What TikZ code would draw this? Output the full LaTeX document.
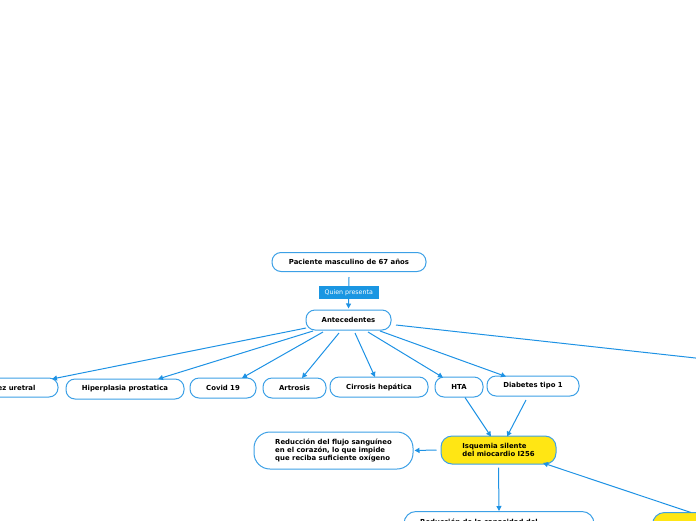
\documentclass[tikz,border=0pt]{standalone}
\usepackage{fontspec}
\setmainfont{DejaVu Sans}
\usetikzlibrary{arrows.meta}
\definecolor{lnblue}{RGB}{30,146,228}
\definecolor{bdblue}{RGB}{60,160,230}
\definecolor{tagblue}{RGB}{26,150,226}
\definecolor{yel}{RGB}{255,230,20}
\tikzset{
  box/.style={draw=bdblue, line width=1pt, fill=white, rounded corners=9pt,
    font=\fontsize{6.9}{8.4}\selectfont\bfseries, inner sep=0pt, align=center},
  ybox/.style={box, fill=yel},
  conn/.style={draw=lnblue, line width=1pt, -{Triangle[length=5pt,width=5pt]}},
  plain/.style={draw=lnblue, line width=1pt},
  tag/.style={fill=tagblue, text=white, font=\fontsize{6.3}{7}\selectfont, inner sep=0pt,
    minimum width=60pt, minimum height=13pt},
  capt/.style={font=\fontsize{6.9}{8.4}\selectfont\bfseries, inner sep=0pt, align=left},
}
\begin{document}
\begin{tikzpicture}[x=1pt,y=-1pt]
\useasboundingbox (0,0) rectangle (696,520);
\clip (0,0) rectangle (696,520);
\node[box, minimum width=154pt, minimum height=19pt] (pac) at (349,262) {Paciente masculino de 67 años};
\node[box, minimum width=85pt, minimum height=20pt] (ant) at (348.5,320) {Antecedentes};
\node[box, minimum width=112pt, minimum height=19pt] (est) at (2,387.5) {Estrechez uretral};
\node[box, minimum width=118pt, minimum height=20pt] (hip) at (125,389) {Hiperplasia prostatica};
\node[box, minimum width=66pt, minimum height=20pt] (cov) at (223,388) {Covid 19};
\node[box, minimum width=63pt, minimum height=20pt] (art) at (294.5,388) {Artrosis};
\node[box, minimum width=98pt, minimum height=20pt] (cir) at (379,387) {Cirrosis hepática};
\node[box, minimum width=48pt, minimum height=20pt] (hta) at (459,387) {HTA};
\node[box, minimum width=92pt, minimum height=20pt] (dia) at (533,386) {Diabetes tipo 1};
\node[ybox, minimum width=115pt, minimum height=28pt, rounded corners=11pt, align=left] (isq) at (498.5,450) {Isquemia silente\\del miocardio I256};
\node[box, minimum width=159pt, minimum height=37pt, rounded corners=16pt, align=left] (red) at (333.5,450.5) {Reducción del flujo sanguíneo\\en el corazón, lo que impide\\que reciba suficiente oxígeno};
\node[box, minimum width=190pt, minimum height=30pt, rounded corners=12pt, anchor=north] (cap) at (499,511) {};
\node[capt, anchor=base west] (capt) at (420,524.5) {Reducción de la capacidad del};
\node[ybox, minimum width=90pt, minimum height=30pt, rounded corners=12pt, anchor=north west] (yb) at (652,512) {};
\coordinate (offr) at (700,358.5);
\coordinate (ybt) at (691,512.5);

\draw[conn] ([yshift=-5pt]pac.south) -- node[tag] (qp) {Quien presenta} ([yshift=1pt]ant.north);
\draw[conn] (306,328) -- (52,379);
\draw[conn] (313,331) -- (158,379);
\draw[conn] (323,332) -- (242,378);
\draw[conn] (339,333) -- (302,378);
\draw[conn] (355,333) -- (375,377);
\draw[conn] (368,332) -- (443,377.5);
\draw[conn] (380,331) -- (506,376.5);
\draw[plain] (396,325) -- (offr);
\draw[conn] (465,397.5) -- (491,436.5);
\draw[conn] (526,400) -- (507,436.5);
\draw[conn] ([xshift=-4pt]isq.west) -- ([xshift=1pt]red.east);
\draw[conn] ([yshift=-3pt]isq.south) -- (cap.north);
\draw[conn] (ybt) -- (543,463);
\end{tikzpicture}
\end{document}
